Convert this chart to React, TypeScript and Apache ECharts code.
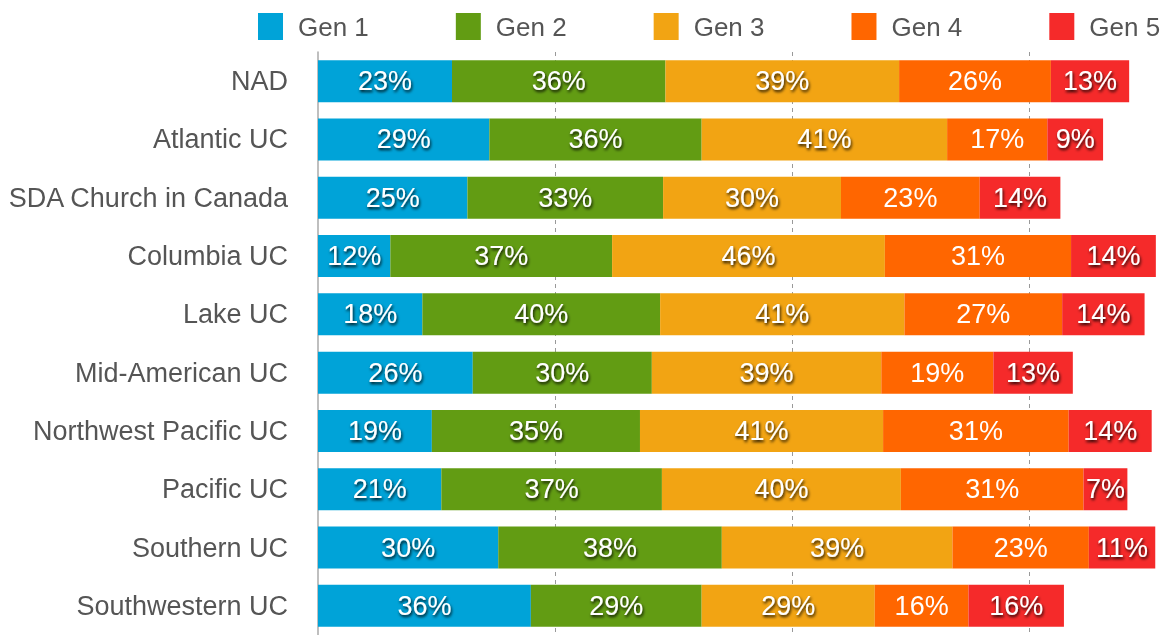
import React, { useEffect, useRef } from "react";
import * as echarts from "echarts";

const categories = [
  "NAD",
  "Atlantic UC",
  "SDA Church in Canada",
  "Columbia UC",
  "Lake UC",
  "Mid-American UC",
  "Northwest Pacific UC",
  "Pacific UC",
  "Southern UC",
  "Southwestern UC",
];

const seriesNames = ["Gen 1", "Gen 2", "Gen 3", "Gen 4", "Gen 5"];

const gen1 = [22.6, 28.9, 25.2, 12.2, 17.6, 26.1, 19.2, 20.8, 30.4, 35.9];
const gen2 = [36.0, 35.8, 33.0, 37.4, 40.1, 30.2, 35.1, 37.2, 37.7, 28.8];
const gen3 = [39.4, 41.4, 30.0, 46.0, 41.2, 38.7, 41.0, 40.3, 38.9, 29.2];
const gen4 = [25.6, 16.9, 23.4, 31.4, 26.6, 18.9, 31.3, 30.8, 23.0, 15.8];
const gen5 = [13.2, 9.4, 13.6, 14.3, 13.9, 13.4, 14.0, 7.4, 11.2, 16.1];

const colors = ["#00A3D8", "#629C13", "#F2A413", "#FF6600", "#F52A2A"];

const FONT = "'Liberation Sans', Arial, Helvetica, sans-serif";

export default function App() {
  const ref = useRef<HTMLDivElement>(null);

  useEffect(() => {
    if (!ref.current) return;
    const chart = echarts.init(ref.current, undefined, { renderer: "svg" });
    const data = [gen1, gen2, gen3, gen4, gen5];
    const series = data.map((vals, i) => ({
      name: seriesNames[i],
      type: "bar",
      stack: "total",
      barWidth: 42,
      data: vals,
      itemStyle: { color: colors[i] },
      label: {
        show: true,
        position: "inside",
        color: "#ffffff",
        fontSize: 27,
        fontFamily: FONT,
        formatter: (p: any) => Math.round(p.value) + "%",
        ...(i === 3
          ? {}
          : {
              textShadowColor: "rgba(0,0,0,0.9)",
              textShadowBlur: 3,
              textShadowOffsetX: 1,
              textShadowOffsetY: 2,
            }),
      },
    }));

    chart.setOption({
      animation: false,
      color: colors,
      legend: {
        data: seriesNames,
        left: 258,
        top: 13,
        width: 905,
        padding: 0,
        itemWidth: 25,
        itemHeight: 27,
        itemGap: 87,
        icon: "rect",
        textStyle: {
          fontSize: 26,
          color: "#555555",
          fontFamily: FONT,
          padding: [0, 0, 0, 10],
        },
      },
      grid: {
        left: 318,
        top: 52,
        width: 842,
        height: 585,
        containLabel: false,
      },
      xAxis: {
        type: "value",
        min: 0,
        max: 142,
        interval: 40,
        axisLabel: { show: false },
        axisLine: { show: false },
        axisTick: { show: false },
        splitLine: {
          show: true,
          showMinLine: false,
          showMaxLine: false,
          lineStyle: { color: "#999999", type: [4, 4], width: 1 },
        },
      },
      yAxis: {
        type: "category",
        data: categories,
        inverse: true,
        axisTick: { show: false },
        axisLine: { show: true, lineStyle: { color: "#aaaaaa", width: 1.5 } },
        axisLabel: {
          fontSize: 27,
          color: "#555555",
          fontFamily: FONT,
          margin: 30,
        },
      },
      series,
    });

    return () => chart.dispose();
  }, []);

  return (
    <div
      ref={ref}
      style={{ position: "fixed", left: 0, top: 0, width: 1163, height: 635 }}
    />
  );
}
